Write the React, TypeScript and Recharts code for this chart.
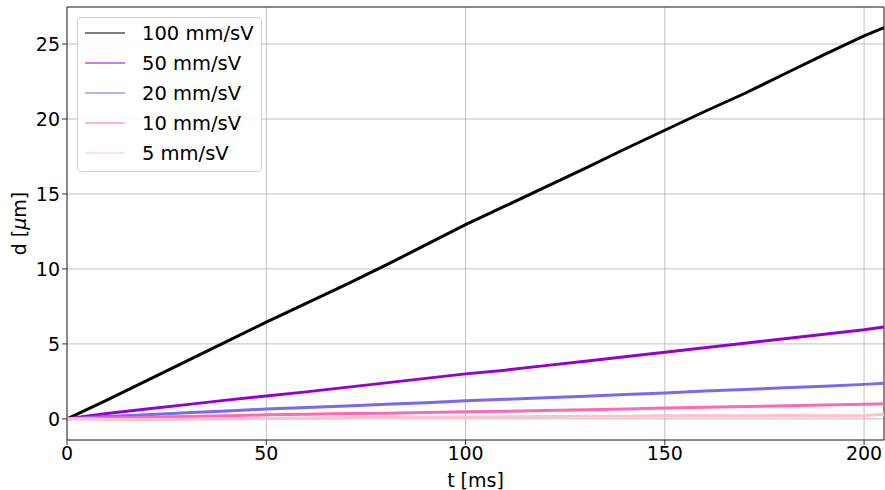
import React from 'react';
import { LineChart, Line, XAxis, YAxis, CartesianGrid, ReferenceLine } from 'recharts';

const times = [0, 10, 20, 30, 40, 50, 60, 70, 80, 90, 100, 110, 120, 130, 140, 150, 160, 170, 180, 190, 200, 205];
const v100 = [0, 1.25, 2.55, 3.85, 5.15, 6.45, 7.7, 8.95, 10.25, 11.6, 12.95, 14.2, 15.45, 16.7, 18.0, 19.25, 20.5, 21.7, 23.0, 24.3, 25.55, 26.1];
const v50 = [0, 0.35, 0.65, 0.95, 1.25, 1.53, 1.8, 2.1, 2.4, 2.7, 3.0, 3.25, 3.55, 3.85, 4.15, 4.45, 4.75, 5.05, 5.35, 5.65, 5.95, 6.13];
const v20 = [0, 0.15, 0.28, 0.4, 0.53, 0.65, 0.75, 0.86, 0.97, 1.08, 1.2, 1.3, 1.4, 1.5, 1.62, 1.72, 1.85, 1.95, 2.07, 2.18, 2.3, 2.38];
const v10 = [0, 0.05, 0.1, 0.15, 0.2, 0.27, 0.3, 0.35, 0.38, 0.42, 0.47, 0.5, 0.55, 0.6, 0.65, 0.72, 0.77, 0.82, 0.87, 0.92, 0.97, 1.0];
const v5 = [0, -0.05, -0.05, -0.03, 0, 0.03, 0.05, 0.08, 0.1, 0.12, 0.13, 0.14, 0.15, 0.17, 0.18, 0.2, 0.2, 0.2, 0.22, 0.2, 0.22, 0.3];

const xTicks = [0, 50, 100, 150, 200];
const yTicks = [0, 5, 10, 15, 20, 25];
const xDomain = [0, 205];
const yDomain = [-1.41, 27.47];

const series = [
  { key: 's100', name: '100 mm/sV', color: '#000000', values: v100 },
  { key: 's50', name: '50 mm/sV', color: '#9400D3', values: v50 },
  { key: 's20', name: '20 mm/sV', color: '#7B68EE', values: v20 },
  { key: 's10', name: '10 mm/sV', color: '#FF69B4', values: v10 },
  { key: 's5', name: '5 mm/sV', color: '#FFC0CB', values: v5 },
];

const data = times.map((t, i) => {
  const row: any = { t };
  series.forEach((s) => (row[s.key] = s.values[i]));
  return row;
});

const FONT = 'DejaVu Sans, sans-serif';

const LegendBox = () => (
  <div
    style={{
      position: 'absolute',
      left: 77,
      top: 17,
      width: 185,
      boxSizing: 'border-box',
      border: '1px solid #d0d0d0',
      borderRadius: 4,
      background: 'rgba(255,255,255,0.85)',
      padding: '0px 0px 3px 7px',
      fontFamily: FONT,
      fontSize: 19.5,
      color: '#000',
    }}
  >
    {series.map((s) => (
      <div key={s.key} style={{ display: 'flex', alignItems: 'center', height: 30 }}>
        <svg width={40} height={4} style={{ marginRight: 17 }}>
          <line x1={0} y1={2} x2={40} y2={2} stroke={s.color} strokeWidth={1.2} />
        </svg>
        <span>{s.name}</span>
      </div>
    ))}
  </div>
);

const YLabel = (props: any) => {
  const vb = props.viewBox || {};
  const cx = 20;
  const cy = (vb.y || 0) + (vb.height || 0) / 2;
  return (
    <text
      x={cx}
      y={cy}
      transform={`rotate(-90 ${cx} ${cy})`}
      textAnchor="middle"
      dominantBaseline="middle"
      fontFamily={FONT}
      fontSize={19}
      fill="#000"
    >
      d [<tspan fontStyle="italic">μ</tspan>m]
    </text>
  );
};

export default function App() {
  return (
    <div style={{ position: 'absolute', left: 0, top: 0, width: 885, height: 490 }}>
      <LineChart width={885} height={490} data={data} margin={{ top: 7, right: 1, left: 0, bottom: 0 }}>
        <CartesianGrid stroke="#b0b0b0" strokeWidth={0.8} />
        <XAxis
          dataKey="t"
          type="number"
          domain={xDomain}
          ticks={xTicks}
          allowDataOverflow
          height={50}
          stroke="#333"
          tickSize={5}
          tick={{ fill: '#000', fontSize: 19, fontFamily: FONT }}
          label={{ value: 't [ms]', position: 'insideBottom', offset: 3, fill: '#000', fontSize: 19, fontFamily: FONT }}
        />
        <YAxis
          type="number"
          domain={yDomain}
          ticks={yTicks}
          allowDataOverflow
          width={67}
          stroke="#333"
          tickSize={5}
          tick={{ fill: '#000', fontSize: 19, fontFamily: FONT }}
          label={<YLabel />}
        />
        <ReferenceLine y={yDomain[1]} stroke="#333" strokeWidth={1} />
        <ReferenceLine x={xDomain[1]} stroke="#333" strokeWidth={1} />
        {series.map((s) => (
          <Line
            key={s.key}
            dataKey={s.key}
            name={s.name}
            stroke={s.color}
            strokeWidth={3}
            dot={false}
            type="linear"
            isAnimationActive={false}
          />
        ))}
      </LineChart>
      <LegendBox />
    </div>
  );
}
